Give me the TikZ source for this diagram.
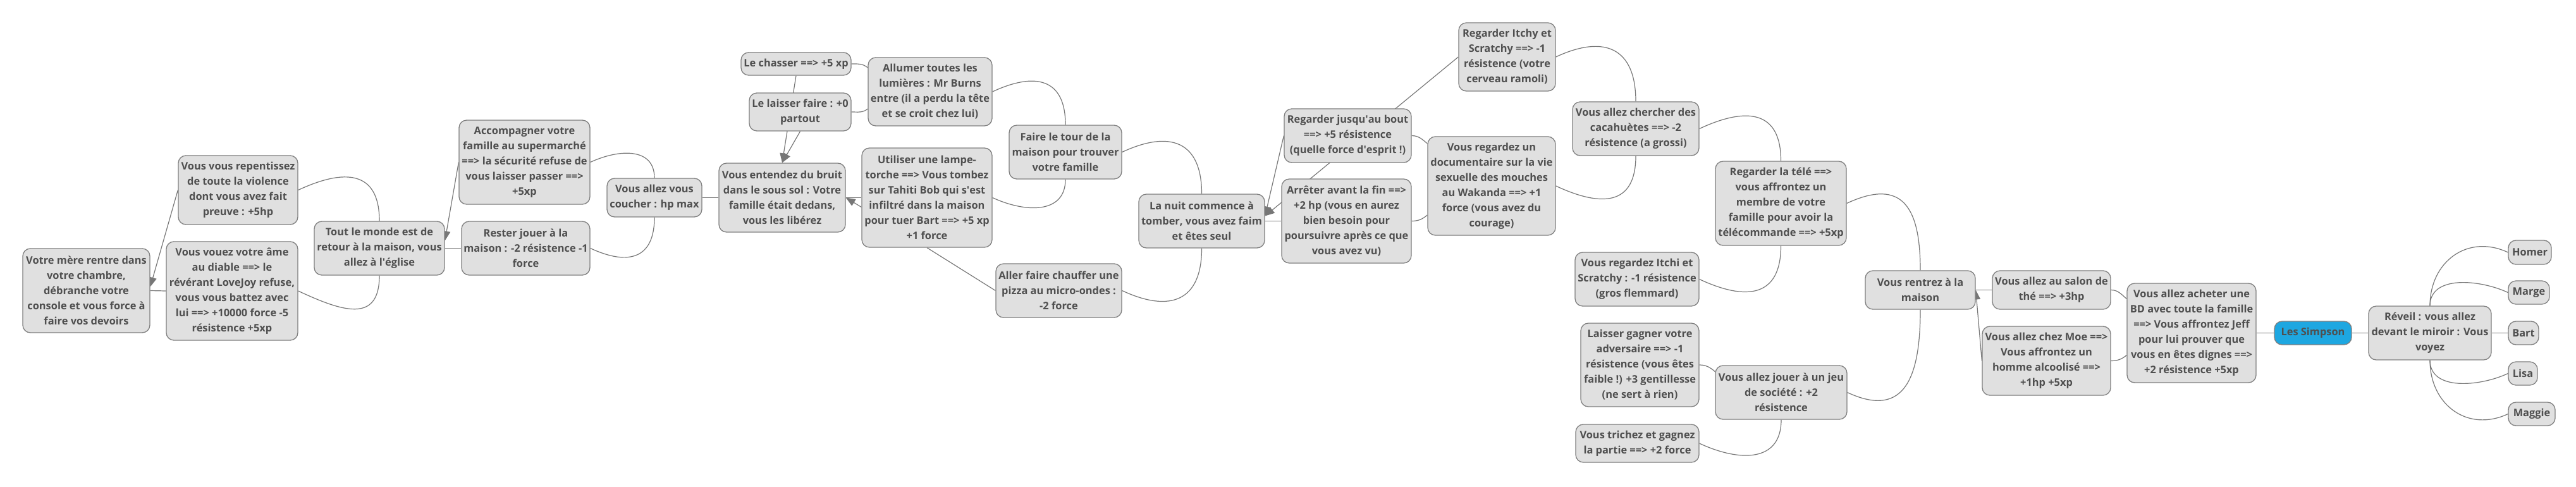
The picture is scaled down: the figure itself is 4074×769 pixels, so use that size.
\documentclass[tikz,border=0pt]{standalone}
\usepackage{fontspec}
\setmainfont{Open Sans}
\usetikzlibrary{arrows.meta,backgrounds,positioning}
\definecolor{boxfill}{HTML}{E0E0E0}
\definecolor{boxline}{HTML}{7F7F7F}
\definecolor{boxtext}{HTML}{4F4F4F}
\definecolor{wire}{HTML}{777777}
\definecolor{rootfill}{HTML}{1EA7E1}
\begin{document}
\begin{tikzpicture}[x=1pt, y=1pt,
	bubble/.style={draw=boxline, line width=1.3pt, fill=boxfill,
		rounded corners=12pt, align=center, text=boxtext, inner sep=2pt,
		font=\fontsize{16.4}{24}\selectfont\bfseries},
	dims/.style 2 args={minimum width=#1pt, minimum height=#2pt},
	rootbubble/.style={bubble, fill=rootfill},
	link/.style={draw=wire, line width=1.2pt},
	back/.style={link, -{Triangle[length=15pt,width=12pt]}}]
	\useasboundingbox (0,0) rectangle (4074,-769);
	% left part
	\node[bubble, dims={201}{133}] (mere) at (136.5,-459.5) {Votre mère rentre dans\\votre chambre,\\débranche votre\\console et vous force à\\faire vos devoirs};
	\node[bubble, dims={189}{109}] (repent) at (376.5,-300.5) {Vous vous repentissez\\de toute la violence\\dont vous avez fait\\preuve : +5hp};
	\node[bubble, dims={208}{156}] (vouez) at (367,-460) {Vous vouez votre âme\\au diable ==> le\\révérant LoveJoy refuse,\\vous vous battez avec\\lui ==> +10000 force -5\\résistence +5xp};
	\node[bubble, dims={206}{85}] (tout) at (600,-392.5) {Tout le monde est de\\retour à la maison, vous\\allez à l\textquotesingle église};
	\node[bubble, dims={207}{133}] (accomp) at (829.5,-256.5) {Accompagner votre\\famille au supermarché\\==> la sécurité refuse de\\vous laisser passer ==>\\+5xp};
	\node[bubble, dims={203}{85}] (rester) at (831.5,-392.5) {Rester jouer à la\\maison : -2 résistence -1\\force};
	\node[bubble, dims={150}{61}] (coucher) at (1035,-312.5) {Vous allez vous\\coucher : hp max};
	\node[bubble, dims={200}{109}] (entendez) at (1237,-312.5) {Vous entendez du bruit\\dans le sous sol : Votre\\famille était dedans,\\vous les libérez};
	\node[bubble, dims={174}{36}] (chasser) at (1259,-101) {Le chasser ==> +5 xp};
	\node[bubble, dims={161}{60}] (laisser) at (1265.5,-177) {Le laisser faire : +0\\partout};
	\node[bubble, dims={196}{108}] (allumer) at (1471,-145) {Allumer toutes les\\lumières : Mr Burns\\entre (il a perdu la tête\\et se croit chez lui)};
	\node[bubble, dims={206}{157}] (lampe) at (1466,-312.5) {Utiliser une lampe-\\torche ==> Vous tombez\\sur Tahiti Bob qui s\textquotesingle est\\infiltré dans la maison\\pour tuer Bart ==> +5 xp\\+1 force};
	\node[bubble, dims={178}{85}] (tour) at (1685,-240.5) {Faire le tour de la\\maison pour trouver\\votre famille};
	\node[bubble, dims={199}{85}] (pizza) at (1674.5,-459.5) {Aller faire chauffer une\\pizza au micro-ondes :\\-2 force};
	\node[bubble, dims={199}{85}] (nuit) at (1900.5,-349.5) {La nuit commence à\\tomber, vous avez faim\\et êtes seul};
	% middle part
	\node[bubble, dims={201}{85}] (bout) at (2131.5,-214.5) {Regarder jusqu\textquotesingle au bout\\==> +5 résistence\\(quelle force d\textquotesingle esprit !)};
	\node[bubble, dims={205}{133}] (arreter) at (2129.5,-349.5) {Arrêter avant la fin ==>\\+2 hp (vous en aurez\\bien besoin pour\\poursuivre après ce que\\vous avez vu)};
	\node[bubble, dims={153}{108}] (itchy) at (2383.5,-90) {Regarder Itchy et\\Scratchy ==> -1\\résistence (votre\\cerveau ramoli)};
	\node[bubble, dims={202}{156}] (docu) at (2359,-294) {Vous regardez un\\documentaire sur la vie\\sexuelle des mouches\\au Wakanda ==> +1\\force (vous avez du\\courage)};
	\node[bubble, dims={200}{85}] (cacah) at (2587,-203.5) {Vous allez chercher des\\cacahuètes ==> -2\\résistence (a grossi)};
	\node[bubble, dims={207}{133}] (tele) at (2816.5,-321.5) {Regarder la télé ==>\\vous affrontez un\\membre de votre\\famille pour avoir la\\télécommande ==> +5xp};
	\node[bubble, dims={196}{85}] (itchi) at (2589,-441.5) {Vous regardez Itchi et\\Scratchy : -1 résistence\\(gros flemmard)};
	\node[bubble, dims={187}{132}] (gagner) at (2593.5,-577) {Laisser gagner votre\\adversaire ==> -1\\résistence (vous êtes\\faible !) +3 gentillesse\\(ne sert à rien)};
	\node[bubble, dims={195}{60}] (triche) at (2589.5,-701) {Vous trichez et gagnez\\la partie ==> +2 force};
	\node[bubble, dims={208}{85}] (jeu) at (2817,-620.5) {Vous allez jouer à un jeu\\de société : +2\\résistence};
	% right part
	\node[bubble, dims={174}{61}] (rentrez) at (3037,-458.5) {Vous rentrez à la\\maison};
	\node[bubble, dims={187}{61}] (salon) at (3244.5,-458.5) {Vous allez au salon de\\thé ==> +3hp};
	\node[bubble, dims={203}{109}] (moe) at (3236.5,-570.5) {Vous allez chez Moe ==>\\Vous affrontez un\\homme alcoolisé ==>\\+1hp +5xp};
	\node[bubble, dims={204}{157}] (bd) at (3466,-526.5) {Vous allez acheter une\\BD avec toute la famille\\==> Vous affrontez Jeff\\pour lui prouver que\\vous en êtes dignes ==>\\+2 résistence +5xp};
	\node[rootbubble, dims={122}{37}] (simpson) at (3658,-526.5) {Les Simpson};
	\node[bubble, dims={194}{85}] (reveil) at (3843,-526.5) {Réveil : vous allez\\devant le miroir : Vous\\voyez};
	\node[bubble, dims={68}{38}] (homer) at (4001,-399) {Homer};
	\node[bubble, dims={65}{37}] (marge) at (3999.5,-462.5) {Marge};
	\node[bubble, dims={48}{37}] (bart) at (3991,-526.5) {Bart};
	\node[bubble, dims={46}{37}] (lisa) at (3990,-590.5) {Lisa};
	\node[bubble, dims={74}{37}] (maggie) at (4004,-654.5) {Maggie};
	\begin{scope}[on background layer]
		\fill[white] (0,0) rectangle (4074,-769);
		% straight links
		\draw[link] (mere.east) to (vouez.west);
		\draw[link] (tout.east) to (rester.west);
		\draw[link] (coucher.east) to (entendez.west);
		\draw[link] (entendez.east) to (lampe.west);
		\draw[link] (lampe.south) to (pizza.west);
		\draw[link] (nuit.east) to (arreter.west);
		\draw[link] (rentrez.east) to (salon.west);
		\draw[link] (bd.east) to (simpson.west);
		\draw[link] (simpson.east) to (reveil.west);
		\draw[link] (reveil.east) to (bart.west);
		% arrows back
		\draw[back] (repent.west) to ([yshift=6pt]mere.east);
		\draw[back] (accomp.west) to ([yshift=12pt]tout.east);
		\draw[back] (chasser.south) to (entendez.north);
		\draw[back] (laisser.south) to (entendez.north);
		\draw[back] ([yshift=-15pt]lampe.west) to (entendez.east);
		\draw[back] (bout.west) to ([yshift=8pt]nuit.east);
		\draw[back] (itchy.west) to ([yshift=8pt]nuit.east);
		\draw[back] (moe.west) to (rentrez.east);
		% curved links
		\draw[link] (tout.north) to[out=90,in=25,looseness=1.5] (repent.east);
		\draw[link] (tout.south) to[out=-90,in=-25,looseness=1.5] (vouez.east);
		\draw[link] (coucher.north) to[out=90,in=25,looseness=1.2] (accomp.east);
		\draw[link] (coucher.south) to[out=-90,in=-25,looseness=1.5] (rester.east);
		\draw[link] (tour.north) to[out=90,in=25,looseness=1.5] (allumer.east);
		\draw[link] (tour.south) to[out=-90,in=-25,looseness=1.2] (lampe.east);
		\draw[link] (nuit.north) to[out=90,in=25,looseness=1.5] (tour.east);
		\draw[link] (nuit.south) to[out=-90,in=-25,looseness=1.5] (pizza.east);
		\draw[link] (cacah.north) to[out=90,in=25,looseness=1.5] (itchy.east);
		\draw[link] (cacah.south) to[out=-90,in=-25,looseness=1.5] (docu.east);
		\draw[link] (tele.north) to[out=90,in=25,looseness=1.5] (cacah.east);
		\draw[link] (tele.south) to[out=-90,in=-25,looseness=1.5] (itchi.east);
		\draw[link] (rentrez.north) to[out=90,in=25,looseness=1.6] (tele.east);
		\draw[link] (rentrez.south) to[out=-90,in=-25,looseness=1.5] (jeu.east);
		\draw[link] (jeu.south) to[out=-90,in=-25,looseness=1.3] (triche.east);
		\draw[link] (reveil.north) to[out=90,in=155,looseness=1.2] (homer.west);
		\draw[link] (reveil.north) to[out=90,in=155,looseness=1.0] (marge.west);
		\draw[link] (reveil.south) to[out=-90,in=-155,looseness=1.0] (lisa.west);
		\draw[link] (reveil.south) to[out=-90,in=-155,looseness=1.2] (maggie.west);
		% short curves into a side
		\draw[link] (chasser.east) to[out=0,in=140] ([yshift=38pt]allumer.west);
		\draw[link] (laisser.east) to[out=0,in=220] ([yshift=-27pt]allumer.west);
		\draw[link] (bout.east) to[out=0,in=140] ([yshift=67pt]docu.west);
		\draw[link] (arreter.east) to[out=0,in=220] ([yshift=-46pt]docu.west);
		\draw[link] (gagner.east) to[out=0,in=140] ([yshift=33pt]jeu.west);
		\draw[link] (salon.east) to[out=0,in=140] ([yshift=54pt]bd.west);
		\draw[link] (moe.east) to[out=0,in=220] ([yshift=-35pt]bd.west);
	\end{scope}
\end{tikzpicture}
\end{document}
